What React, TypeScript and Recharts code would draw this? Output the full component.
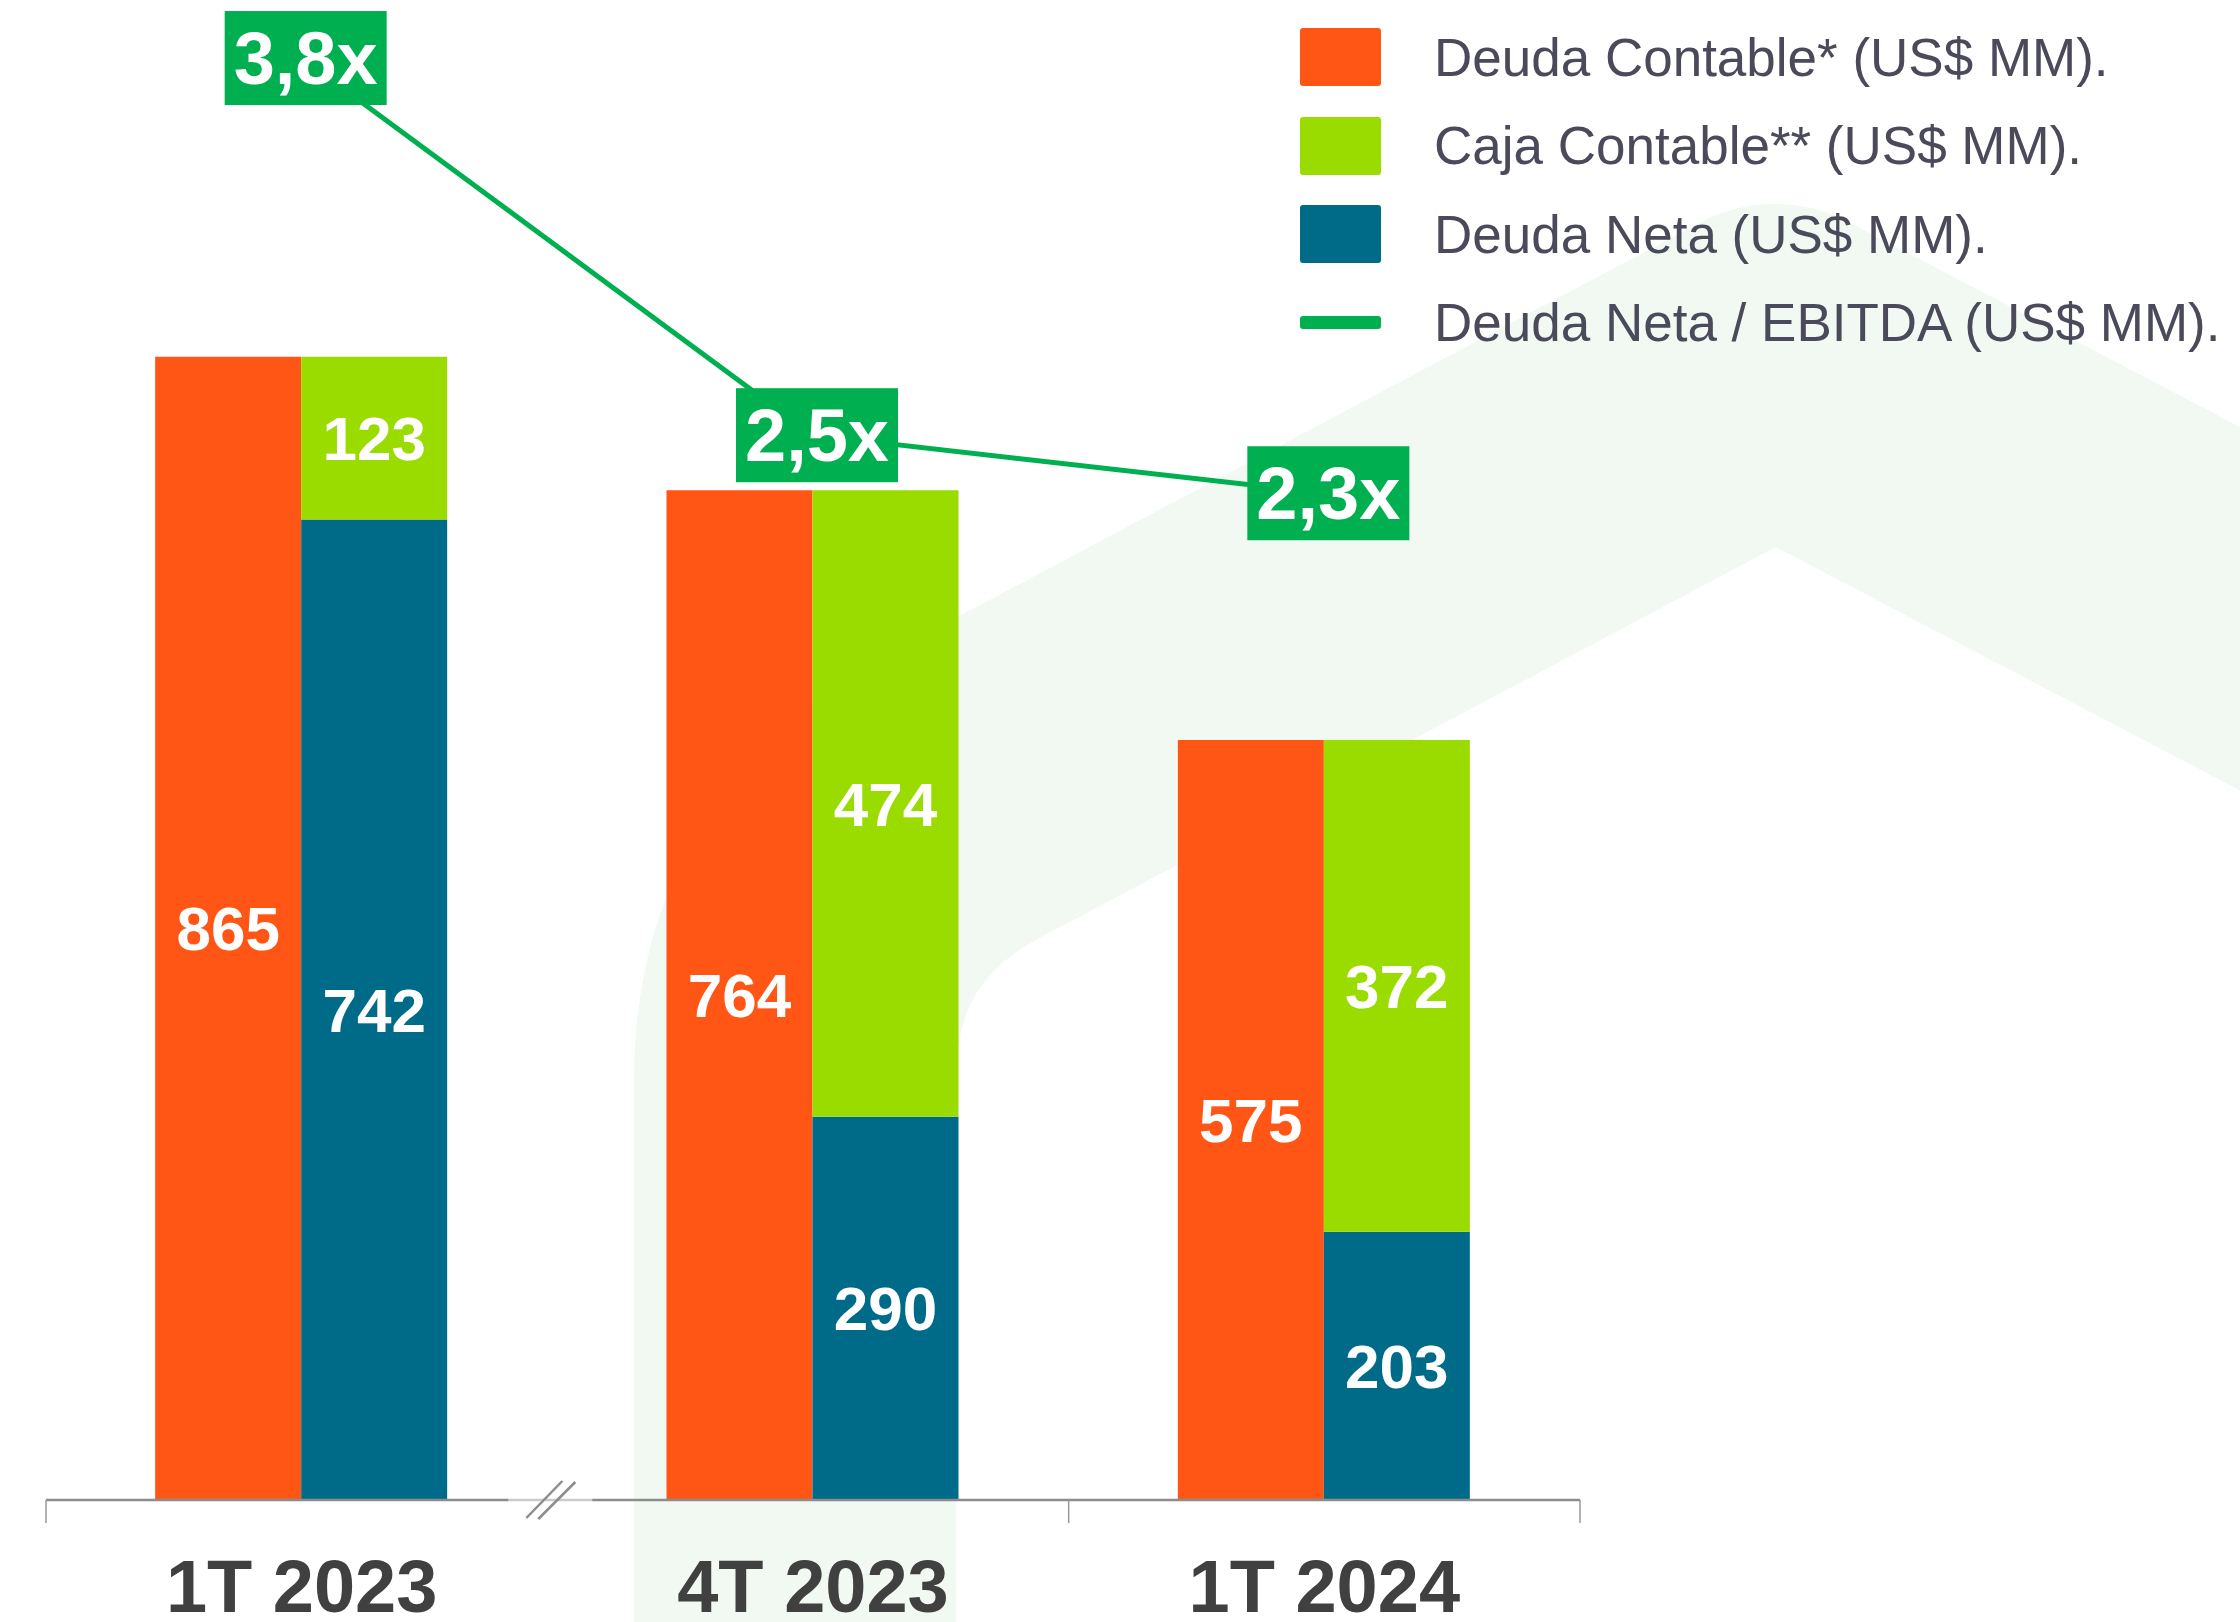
import {
  ComposedChart,
  Bar,
  Line,
  XAxis,
  YAxis,
  LabelList,
  Legend,
} from 'recharts'

const categories = ['1T 2023', '4T 2023', '1T 2024']
const deudaContable = [865, 764, 575]
const cajaContable = [123, 474, 372]
const deudaNeta = [742, 290, 203]
const deudaNetaEbitda = [3.8, 2.5, 2.3]

const legendNames = [
  'Deuda Contable* (US$ MM).',
  'Caja Contable** (US$ MM).',
  'Deuda Neta (US$ MM).',
  'Deuda Neta / EBITDA (US$ MM).',
]

const ORANGE = '#FF5616'
const LIME = '#9ADC00'
const BLUE = '#006B88'
const GREEN = '#00B050'
const FONT = '"Liberation Sans", Arial, sans-serif'

const W = 2240
const H = 1622
const MARGIN = { top: 0, right: 660, left: 46, bottom: 2 }
const BAND = (W - MARGIN.left - MARGIN.right) / categories.length

const data = categories.map((name, i) => ({
  name,
  contable: deudaContable[i],
  caja: cajaContable[i],
  neta: deudaNeta[i],
  ratio: deudaNetaEbitda[i],
}))

const legendItems = [
  { name: legendNames[0], color: ORANGE, line: false },
  { name: legendNames[1], color: LIME, line: false },
  { name: legendNames[2], color: BLUE, line: false },
  { name: legendNames[3], color: GREEN, line: true },
]

// axis break drawn between the first and second quarter
function BreakMark({ cx, cy }: { cx: number; cy: number }) {
  return (
    <g>
      <rect x={cx - 49} y={cy - 2} width={84} height={4} fill="#fff" opacity={0.55} />
      <line x1={cx - 31} y1={cy + 18} x2={cx + 5} y2={cy - 19} stroke="#8c8c8c" strokeWidth={2.5} />
      <line x1={cx - 19} y1={cy + 19} x2={cx + 18} y2={cy - 18} stroke="#8c8c8c" strokeWidth={2.5} />
    </g>
  )
}

// eslint-disable-next-line @typescript-eslint/no-explicit-any
function CategoryTick({ x, y, payload, index }: any) {
  const half = BAND / 2
  const tick = (tx: number) => (
    <line x1={tx} y1={y} x2={tx} y2={y + 23} stroke="#999" strokeWidth={1.5} />
  )
  return (
    <g>
      {index === 0 && tick(x - half)}
      {index === 0 ? <BreakMark cx={x + half} cy={y} /> : tick(x + half)}
      <text
        x={x}
        y={y + 112}
        textAnchor="middle"
        fill="#404040"
        fontFamily={FONT}
        fontWeight={700}
        fontSize={74}
      >
        {payload.value}
      </text>
    </g>
  )
}

// eslint-disable-next-line @typescript-eslint/no-explicit-any
function RatioLabel({ x, y, value }: any) {
  const bw = 162
  const bh = 94
  const cx = x + 4
  return (
    <g>
      <rect x={cx - bw / 2} y={y - bh / 2} width={bw} height={bh} fill={GREEN} />
      <text
        x={cx}
        y={y + 26}
        textAnchor="middle"
        fill="#fff"
        fontFamily={FONT}
        fontWeight={700}
        fontSize={74}
      >
        {Number(value).toFixed(1).replace('.', ',') + 'x'}
      </text>
    </g>
  )
}

function LegendContent() {
  return (
    <div style={{ fontFamily: FONT }}>
      {legendItems.map((it) => (
        <div key={it.name} style={{ display: 'flex', alignItems: 'center', height: 88.5 }}>
          <div
            style={{
              width: 81,
              height: it.line ? 13 : 58,
              background: it.color,
              borderRadius: 3,
              marginRight: 53,
              flexShrink: 0,
            }}
          />
          <span style={{ fontSize: 53, color: '#4A4A5A', whiteSpace: 'nowrap' }}>{it.name}</span>
        </div>
      ))}
    </div>
  )
}

export default function App() {
  return (
    <div style={{ position: 'absolute', left: 0, top: 0, width: W, height: H, background: '#fff' }}>
      {/* faint decorative background band */}
      <svg width={W} height={H} style={{ position: 'absolute', left: 0, top: 0 }}>
        <path
          d="M 795 1800 L 795 1080 Q 795 880 975 790 L 1775 365 L 2500 745"
          fill="none"
          stroke="#F2F9F3"
          strokeWidth={322}
          strokeLinejoin="round"
        />
      </svg>
      <div style={{ position: 'absolute', left: 0, top: 0 }}>
        <ComposedChart width={W} height={H} data={data} margin={MARGIN} barGap={0} barCategoryGap="21.35%">
          <XAxis
            dataKey="name"
            height={120}
            tickLine={false}
            tickSize={0}
            tickMargin={0}
            axisLine={{ stroke: '#8c8c8c', strokeWidth: 2.5 }}
            tick={<CategoryTick />}
            interval={0}
          />
          <YAxis yAxisId="left" hide domain={[0, 1135]} allowDataOverflow />
          <YAxis yAxisId="right" orientation="right" hide domain={[-1.17, 4.0]} allowDataOverflow />
          <Legend
            layout="vertical"
            align="center"
            verticalAlign="middle"
            content={<LegendContent />}
            wrapperStyle={{ left: 1300, top: 13, width: 900, height: 360 }}
          />
          <Bar yAxisId="left" dataKey="contable" stackId="o" name={legendNames[0]} fill={ORANGE} isAnimationActive={false}>
            <LabelList dataKey="contable" position="center" fill="#fff" fontSize={62} fontWeight={700} fontFamily={FONT} />
          </Bar>
          <Bar yAxisId="left" dataKey="neta" stackId="s" name={legendNames[2]} fill={BLUE} isAnimationActive={false}>
            <LabelList dataKey="neta" position="center" fill="#fff" fontSize={62} fontWeight={700} fontFamily={FONT} />
          </Bar>
          <Bar yAxisId="left" dataKey="caja" stackId="s" name={legendNames[1]} fill={LIME} isAnimationActive={false}>
            <LabelList dataKey="caja" position="center" fill="#fff" fontSize={62} fontWeight={700} fontFamily={FONT} />
          </Bar>
          <Line
            yAxisId="right"
            dataKey="ratio"
            name={legendNames[3]}
            stroke={GREEN}
            strokeWidth={5}
            dot={false}
            activeDot={false}
            isAnimationActive={false}
          >
            <LabelList dataKey="ratio" content={<RatioLabel />} />
          </Line>
        </ComposedChart>
      </div>
    </div>
  )
}
